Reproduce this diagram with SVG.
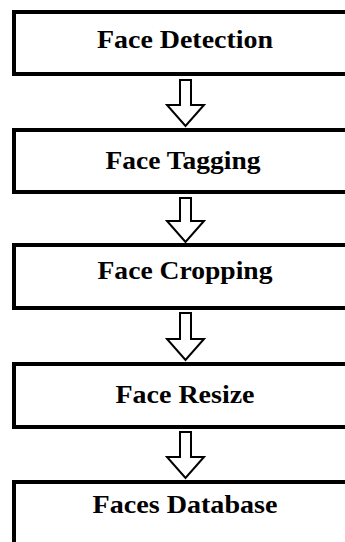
<svg xmlns="http://www.w3.org/2000/svg" width="345" height="542" viewBox="0 0 345 542">
  <style>
    .box { fill: #ffffff; stroke: #000000; stroke-width: 4; }
    .label { font-family: "Liberation Serif", "DejaVu Serif", serif; font-weight: bold; font-size: 25px; fill: #000000; text-anchor: middle; }
    .arrow { fill: #ffffff; stroke: #000000; stroke-width: 2; stroke-linejoin: miter; }
  </style>
  <rect width="345" height="542" fill="#ffffff"/>

  <g id="face-detection">
    <rect class="box" x="14" y="12" width="360" height="62"/>
    <text class="label" x="185" y="48" textLength="176" lengthAdjust="spacingAndGlyphs">Face Detection</text>
  </g>
  <g id="face-tagging">
    <rect class="box" x="14" y="130" width="360" height="62"/>
    <text class="label" x="183" y="169" textLength="155" lengthAdjust="spacingAndGlyphs">Face Tagging</text>
  </g>
  <g id="face-cropping">
    <rect class="box" x="14" y="245" width="360" height="63"/>
    <text class="label" x="185" y="279" textLength="175" lengthAdjust="spacingAndGlyphs">Face Cropping</text>
  </g>
  <g id="face-resize">
    <rect class="box" x="14" y="364" width="360" height="63"/>
    <text class="label" x="185" y="403" textLength="139" lengthAdjust="spacingAndGlyphs">Face Resize</text>
  </g>
  <g id="faces-database">
    <rect class="box" x="14" y="482" width="360" height="100"/>
    <text class="label" x="185" y="513" textLength="185" lengthAdjust="spacingAndGlyphs">Faces Database</text>
  </g>

  <g id="connectors">
    <path class="arrow" d="M180,80 H191 V105 H204 L185.5,126 L167,105 H180 Z"/>
    <path class="arrow" d="M180,198 H191 V221 H204 L185.5,242 L167,221 H180 Z"/>
    <path class="arrow" d="M180,313 H191 V339 H204 L185.5,360 L167,339 H180 Z"/>
    <path class="arrow" d="M180,432 H191 V457 H204 L185.5,478 L167,457 H180 Z"/>
  </g>
</svg>
